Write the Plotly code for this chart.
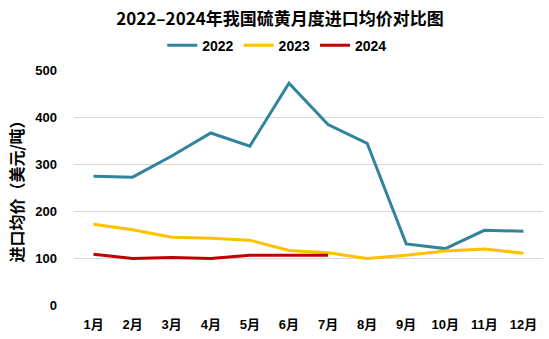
import plotly.graph_objects as go

months = ["1月", "2月", "3月", "4月", "5月", "6月", "7月", "8月", "9月", "10月", "11月", "12月"]
v2022 = [274, 272, 317, 366, 338, 472, 384, 344, 130, 120, 159, 157]
v2023 = [172, 160, 144, 142, 138, 116, 111, 99, 106, 115, 119, 110]
v2024 = [108, 99, 101, 99, 106, 106, 106]

FONT = "Liberation Sans, Noto Sans CJK SC, sans-serif"

fig = go.Figure()
fig.add_trace(go.Scatter(x=months, y=v2022, name="2022", mode="lines",
                         line=dict(color="#31849B", width=3)))
fig.add_trace(go.Scatter(x=months, y=v2023, name="2023", mode="lines",
                         line=dict(color="#FFC000", width=3)))
fig.add_trace(go.Scatter(x=months[:len(v2024)], y=v2024, name="2024", mode="lines",
                         line=dict(color="#C00000", width=3)))

fig.update_layout(
    width=549, height=339,
    margin=dict(l=74, r=6, t=70, b=34, autoexpand=False),
    paper_bgcolor="white", plot_bgcolor="white",
    font=dict(family=FONT, size=13, color="#000000", weight="bold"),
    title=dict(text="2022–2024年我国硫黄月度进口均价对比图", x=0.51, xref="container",
               xanchor="center", y=0.945, yref="container", yanchor="middle",
               font=dict(size=17, family="Noto Sans CJK SC, sans-serif", weight="bold")),
    legend=dict(orientation="h", x=0.505, xref="container", xanchor="center",
                y=0.865, yref="container", yanchor="middle",
                font=dict(size=14, weight="bold"), itemwidth=30,
                traceorder="normal"),
    showlegend=True,
)
fig.update_xaxes(type="category", range=[-0.5, 11.5], showgrid=False, showline=False, ticks="",
                 tickfont=dict(size=13, weight="bold"), ticklabelstandoff=10, automargin=False)
fig.update_yaxes(range=[0, 500], dtick=100, showgrid=True, gridcolor="#D9D9D9",
                 gridwidth=1, zeroline=False, showline=False, ticks="",
                 tickfont=dict(size=13, weight="bold"), ticklabelstandoff=16, automargin=False,
                 title=dict(text="进口均价（美元/吨）", standoff=7,
                            font=dict(size=16, family="Noto Sans CJK SC, sans-serif", weight="bold")))

fig.write_html("out.html")
